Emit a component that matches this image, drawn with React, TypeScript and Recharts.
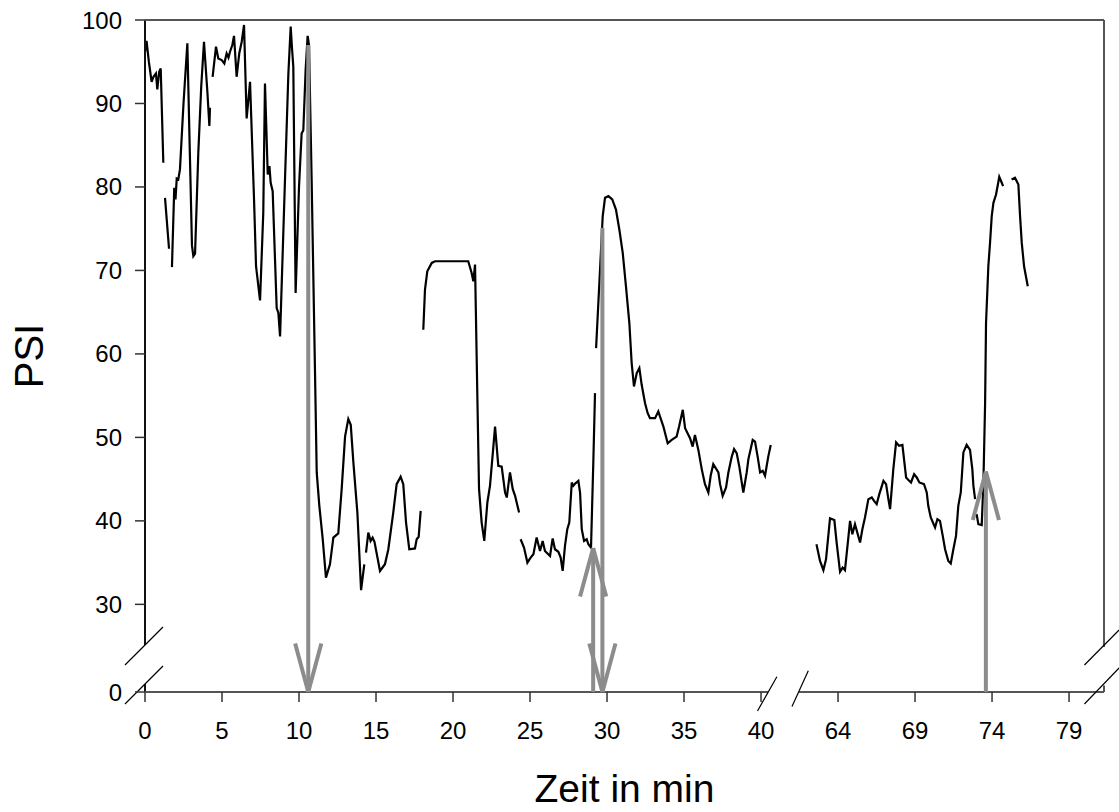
import React from 'react';
import { LineChart, Line, XAxis, YAxis, ReferenceLine } from 'recharts';

// ---- data: time in minutes and PSI value (null = gap in the recording) ----
const minutes: number[] = [
  0.0, 0.1, 0.25, 0.43, 0.55, 0.71, 0.8, 0.92, 1.02, 1.19,
  1.25,
  1.3, 1.56,
  1.65,
  1.75, 1.9, 1.98, 2.06, 2.16, 2.27, 2.5, 2.75, 2.9, 3.05, 3.14, 3.25, 3.46, 3.65, 3.83, 4.05, 4.18, 4.22,
  4.3,
  4.39, 4.61, 4.76, 4.98, 5.15, 5.3, 5.42, 5.52, 5.67, 5.78, 5.95, 6.12, 6.28, 6.43, 6.6, 6.82, 7.08, 7.21, 7.47, 7.68, 7.79, 7.97, 8.08, 8.16, 8.29, 8.55, 8.66, 8.77, 9.09, 9.31, 9.46, 9.55, 9.63, 9.78, 10.0, 10.17, 10.28, 10.43, 10.56, 10.65, 10.82, 11.04, 11.15, 11.32, 11.54, 11.75, 12.01, 12.23, 12.55, 12.77, 12.99, 13.2, 13.36, 13.53, 13.79, 14.03, 14.24,
  14.3,
  14.35, 14.5, 14.65, 14.78, 14.9, 15.26, 15.58, 15.8, 16.12, 16.34, 16.6, 16.77, 16.95, 17.16, 17.53, 17.64, 17.77, 17.9,
  18.0,
  18.07, 18.18, 18.33, 18.62, 18.83, 20.99, 21.21, 21.32, 21.43, 21.58, 21.69, 21.86, 22.03, 22.23, 22.4, 22.62, 22.73, 22.94, 23.16, 23.38, 23.49, 23.7, 23.88, 24.03, 24.29,
  24.34,
  24.39, 24.61, 24.83, 25.04, 25.22, 25.43, 25.65, 25.82, 25.97, 26.3, 26.47, 26.62, 26.84, 26.99, 27.12, 27.27, 27.42, 27.55, 27.71, 27.81, 27.95, 28.14, 28.25, 28.36, 28.51, 28.68, 28.79, 28.96, 29.11, 29.22,
  29.25,
  29.29, 29.59, 29.72, 29.87, 30.09, 30.34, 30.58, 30.8, 31.02, 31.23, 31.45, 31.6, 31.75, 31.93, 32.1, 32.25, 32.47, 32.64, 32.79, 33.12, 33.33, 33.66, 33.94, 34.2, 34.52, 34.68, 34.92, 35.07, 35.39, 35.56, 35.71, 35.93, 36.15, 36.36, 36.58, 36.73, 36.9, 37.23, 37.34, 37.51, 37.73, 37.88, 38.1, 38.25, 38.42, 38.59, 38.85, 39.07, 39.18, 39.46, 39.61, 39.78, 39.94, 40.11, 40.26, 40.47, 40.63,
  50.0,
  62.6, 62.83, 63.05, 63.22, 63.48, 63.76, 63.91, 64.13, 64.3, 64.45, 64.67, 64.78, 64.93, 65.1, 65.43, 65.58, 65.75, 65.97, 66.19, 66.34, 66.51, 66.68, 66.95, 67.12, 67.27, 67.38, 67.59, 67.77, 67.96, 68.18, 68.42, 68.57, 68.74, 68.94, 69.11, 69.28, 69.58, 69.76, 69.86, 70.02, 70.3, 70.45, 70.62, 70.8, 70.95, 71.16, 71.32, 71.49, 71.66, 71.81, 71.97, 72.14, 72.35, 72.57, 72.72, 72.79, 72.9,
  72.95,
  73.0, 73.11, 73.33, 73.44, 73.55, 73.61, 73.69, 73.76, 73.87, 73.98, 74.09, 74.26, 74.47, 74.63, 74.72,
  75.0,
  75.27, 75.49, 75.71, 75.82, 75.93, 76.08, 76.32,
];

const psi: (number | null)[] = [
  96.2, 97.5, 95.0, 92.6, 93.2, 93.6, 91.7, 93.8, 94.2, 82.9,
  null,
  78.7, 72.6,
  null,
  70.4, 79.9, 78.5, 81.0, 80.9, 82.1, 90.0, 97.2, 85.0, 73.0, 71.7, 72.0, 84.0, 92.0, 97.4, 91.4, 87.3, 89.5,
  null,
  93.2, 96.8, 95.4, 95.2, 94.8, 96.0, 95.5, 96.2, 97.0, 98.1, 93.2, 96.0, 97.4, 99.4, 88.2, 92.6, 78.5, 70.5, 66.4, 76.9, 92.4, 81.5, 82.5, 80.5, 79.5, 65.5, 64.9, 62.1, 80.9, 93.6, 99.2, 96.5, 94.4, 67.3, 80.0, 86.4, 86.8, 94.0, 98.1, 97.0, 80.9, 57.7, 45.8, 41.8, 37.8, 33.2, 34.8, 38.0, 38.5, 43.8, 50.1, 52.2, 51.5, 47.0, 41.0, 31.7, 34.8,
  null,
  36.2, 38.6, 37.6, 38.0, 37.5, 34.0, 34.8, 36.6, 41.0, 44.4, 45.3, 44.4, 39.8, 36.6, 36.7, 37.8, 38.1, 41.2,
  null,
  62.9, 67.7, 69.9, 70.9, 71.1, 71.1, 69.7, 68.7, 70.7, 54.9, 43.8, 39.8, 37.6, 42.2, 44.2, 48.9, 51.3, 46.6, 46.5, 43.4, 42.8, 45.8, 43.8, 43.0, 41.0,
  null,
  37.8, 36.8, 35.0, 35.6, 36.0, 38.0, 36.4, 37.6, 36.4, 35.8, 37.9, 36.6, 36.3, 35.6, 34.0, 37.0, 39.0, 39.8, 44.6, 44.2, 44.5, 44.8, 43.4, 39.0, 37.6, 37.8, 37.2, 36.8, 47.0, 55.3,
  null,
  60.7, 71.7, 76.5, 78.7, 78.9, 78.5, 77.3, 74.9, 72.1, 68.1, 63.7, 58.9, 56.1, 57.7, 58.3, 56.3, 54.1, 52.9, 52.3, 52.3, 53.1, 51.3, 49.3, 49.7, 50.1, 51.3, 53.3, 51.1, 49.9, 48.9, 50.3, 48.5, 46.2, 44.4, 43.4, 45.4, 46.8, 45.8, 44.4, 43.0, 44.0, 45.8, 47.7, 48.6, 48.1, 46.5, 43.4, 45.8, 47.4, 49.7, 49.5, 47.7, 45.8, 46.0, 45.4, 47.7, 49.1,
  null,
  37.2, 35.2, 34.1, 35.4, 40.3, 40.1, 37.4, 33.9, 34.4, 34.1, 38.0, 40.0, 38.4, 39.6, 37.4, 39.0, 40.4, 42.6, 42.8, 42.4, 42.0, 43.2, 44.8, 44.4, 42.6, 41.4, 46.2, 49.4, 49.0, 49.1, 45.2, 44.9, 44.6, 45.6, 45.2, 44.6, 44.4, 43.4, 41.8, 40.4, 39.2, 40.2, 40.0, 38.2, 36.6, 35.2, 34.9, 36.6, 38.2, 41.8, 43.4, 48.2, 49.1, 48.5, 46.2, 44.2, 42.6,
  null,
  40.8, 39.6, 39.5, 44.6, 54.1, 63.7, 67.3, 70.5, 73.3, 76.5, 78.1, 79.1, 81.2, 80.5, 80.1,
  null,
  80.9, 81.1, 80.3, 76.5, 73.3, 70.5, 68.1,
];

// tick positions on the broken axes and their labels
const xTickPositions = [0, 5, 10, 15, 20, 25, 30, 35, 40, 45, 50, 55, 60];
const xTickLabels = ['0', '5', '10', '15', '20', '25', '30', '35', '40', '64', '69', '74', '79'];
const yTickPositions = [19.5, 30, 40, 50, 60, 70, 80, 90, 100];
const yTickLabels = ['0', '30', '40', '50', '60', '70', '80', '90', '100'];

// arrows: minute, start PSI, end PSI (arrow head at the end)
const arrowMinutes = [10.6, 29.1, 29.7, 73.6];
const arrowFrom = [97.0, 0, 75.1, 0];
const arrowTo = [0, 36.75, 0, 45.9];

// ---- broken-axis mapping ----
const X_SKIP = 19; // minutes 41..59 are cut out of the time axis
const toPosX = (t: number) => (t >= 60 ? t - X_SKIP : t);
const Y_ZERO_POS = 19.5; // "0" sits below the break of the PSI axis
const toPosY = (v: number) => (v === 0 ? Y_ZERO_POS : v);

const X_END = 62.27;
const Y_TOP = 100;

const rows = minutes.map((t, i) => ({ pos: toPosX(t), psi: psi[i] }));

const FONT = '"Liberation Sans", Arial, Helvetica, sans-serif';
const ARROW_COLOR = '#8c8c8c';
const FRAME_COLOR = '#555555';
const HEAD_DX = 0.85;
const HEAD_DY = 5.8;

type Seg = { a: [number, number]; b: [number, number]; color: string; w: number };

const frame: Seg[] = [
  // left axis with break
  { a: [0, Y_TOP], b: [0, 25.13], color: '#111111', w: 2 },
  { a: [0, 20.46], b: [0, Y_ZERO_POS], color: '#111111', w: 2 },
  // top border
  { a: [0, Y_TOP], b: [X_END, Y_TOP], color: FRAME_COLOR, w: 2 },
  // right border with break
  { a: [X_END, Y_TOP], b: [X_END, 24.89], color: FRAME_COLOR, w: 2 },
  { a: [X_END, 20.28], b: [X_END, Y_ZERO_POS], color: FRAME_COLOR, w: 2 },
  // bottom axis with break
  { a: [0, Y_ZERO_POS], b: [40.45, Y_ZERO_POS], color: FRAME_COLOR, w: 2 },
  { a: [42.47, Y_ZERO_POS], b: [X_END, Y_ZERO_POS], color: FRAME_COLOR, w: 2 },
  // break marks
  { a: [-1.3, 22.74], b: [1.17, 27.29], color: '#000000', w: 1.2 },
  { a: [-1.3, 18.06], b: [1.17, 22.62], color: '#000000', w: 1.2 },
  { a: [61.0, 22.74], b: [63.25, 26.93], color: '#000000', w: 1.2 },
  { a: [61.0, 18.06], b: [63.25, 22.38], color: '#000000', w: 1.2 },
  { a: [39.77, 17.23], b: [41.03, 21.33], color: '#000000', w: 1.2 },
  { a: [42.01, 17.77], b: [43.07, 22.05], color: '#000000', w: 1.2 },
];

const arrowSegs: Seg[] = arrowMinutes.flatMap((m, i) => {
  const x = toPosX(m);
  const y0 = toPosY(arrowFrom[i]);
  const y1 = toPosY(arrowTo[i]);
  const dir = y1 > y0 ? 1 : -1;
  const armY = y1 - dir * HEAD_DY;
  return [
    { a: [x, y0], b: [x, y1], color: ARROW_COLOR, w: 4 } as Seg,
    { a: [x - HEAD_DX, armY], b: [x, y1], color: ARROW_COLOR, w: 4 } as Seg,
    { a: [x + HEAD_DX, armY], b: [x, y1], color: ARROW_COLOR, w: 4 } as Seg,
  ];
});

const renderSeg = (s: Seg, key: string) => (
  <ReferenceLine
    key={key}
    segment={[{ x: s.a[0], y: s.a[1] }, { x: s.b[0], y: s.b[1] }]}
    stroke={s.color}
    strokeWidth={s.w}
    ifOverflow="visible"
    strokeLinecap="butt"
  />
);

const YTitle = (props: any) => {
  const vb = props && props.viewBox;
  const cy = vb && typeof vb.y === 'number' ? vb.y + vb.height / 2 : 356;
  const cx = 43;
  return (
    <text
      x={cx}
      y={cy}
      transform={`rotate(-90 ${cx} ${cy})`}
      textAnchor="middle"
      fontSize={40}
      fontFamily={FONT}
      fill="#000"
    >
      PSI
    </text>
  );
};

const XTitle = (props: any) => {
  const vb = props && props.viewBox;
  const cx = vb && typeof vb.x === 'number' ? vb.x + vb.width / 2 : 624.5;
  return (
    <text x={cx} y={802} textAnchor="middle" fontSize={39} fontFamily={FONT} fill="#000">
      Zeit in min
    </text>
  );
};

export default function App() {
  return (
    <div style={{ position: 'absolute', left: 0, top: 0, width: 1119, height: 812, background: '#fff' }}>
      <LineChart
        width={1119}
        height={812}
        data={rows}
        margin={{ top: 20, right: 15, bottom: 90, left: 85 }}
      >
        <XAxis
          type="number"
          dataKey="pos"
          domain={[0, X_END]}
          ticks={xTickPositions}
          interval={0}
          allowDataOverflow
          axisLine={false}
          tickSize={10}
          tickMargin={20}
          height={30}
          tickLine={{ stroke: '#333', strokeWidth: 1.5 }}
          tick={{ fill: '#000', fontSize: 24, fontFamily: FONT }}
          tickFormatter={(v: number) => xTickLabels[xTickPositions.indexOf(v)] ?? String(v)}
          label={(p: any) => <XTitle {...p} />}
        />
        <YAxis
          type="number"
          domain={[Y_ZERO_POS, Y_TOP]}
          ticks={yTickPositions}
          interval={0}
          allowDataOverflow
          axisLine={false}
          tickSize={10}
          tickMargin={13}
          width={60}
          tickLine={{ stroke: '#333', strokeWidth: 1.5 }}
          tick={{ fill: '#000', fontSize: 24, fontFamily: FONT }}
          tickFormatter={(v: number) => yTickLabels[yTickPositions.indexOf(v)] ?? String(v)}
          label={(p: any) => <YTitle {...p} />}
        />
        <Line
          type="linear"
          dataKey="psi"
          stroke="#000"
          strokeWidth={2.2}
          dot={false}
          activeDot={false}
          connectNulls={false}
          isAnimationActive={false}
        />
        {frame.map((s, i) => renderSeg(s, `f${i}`))}
        {arrowSegs.map((s, i) => renderSeg(s, `a${i}`))}
      </LineChart>
    </div>
  );
}
